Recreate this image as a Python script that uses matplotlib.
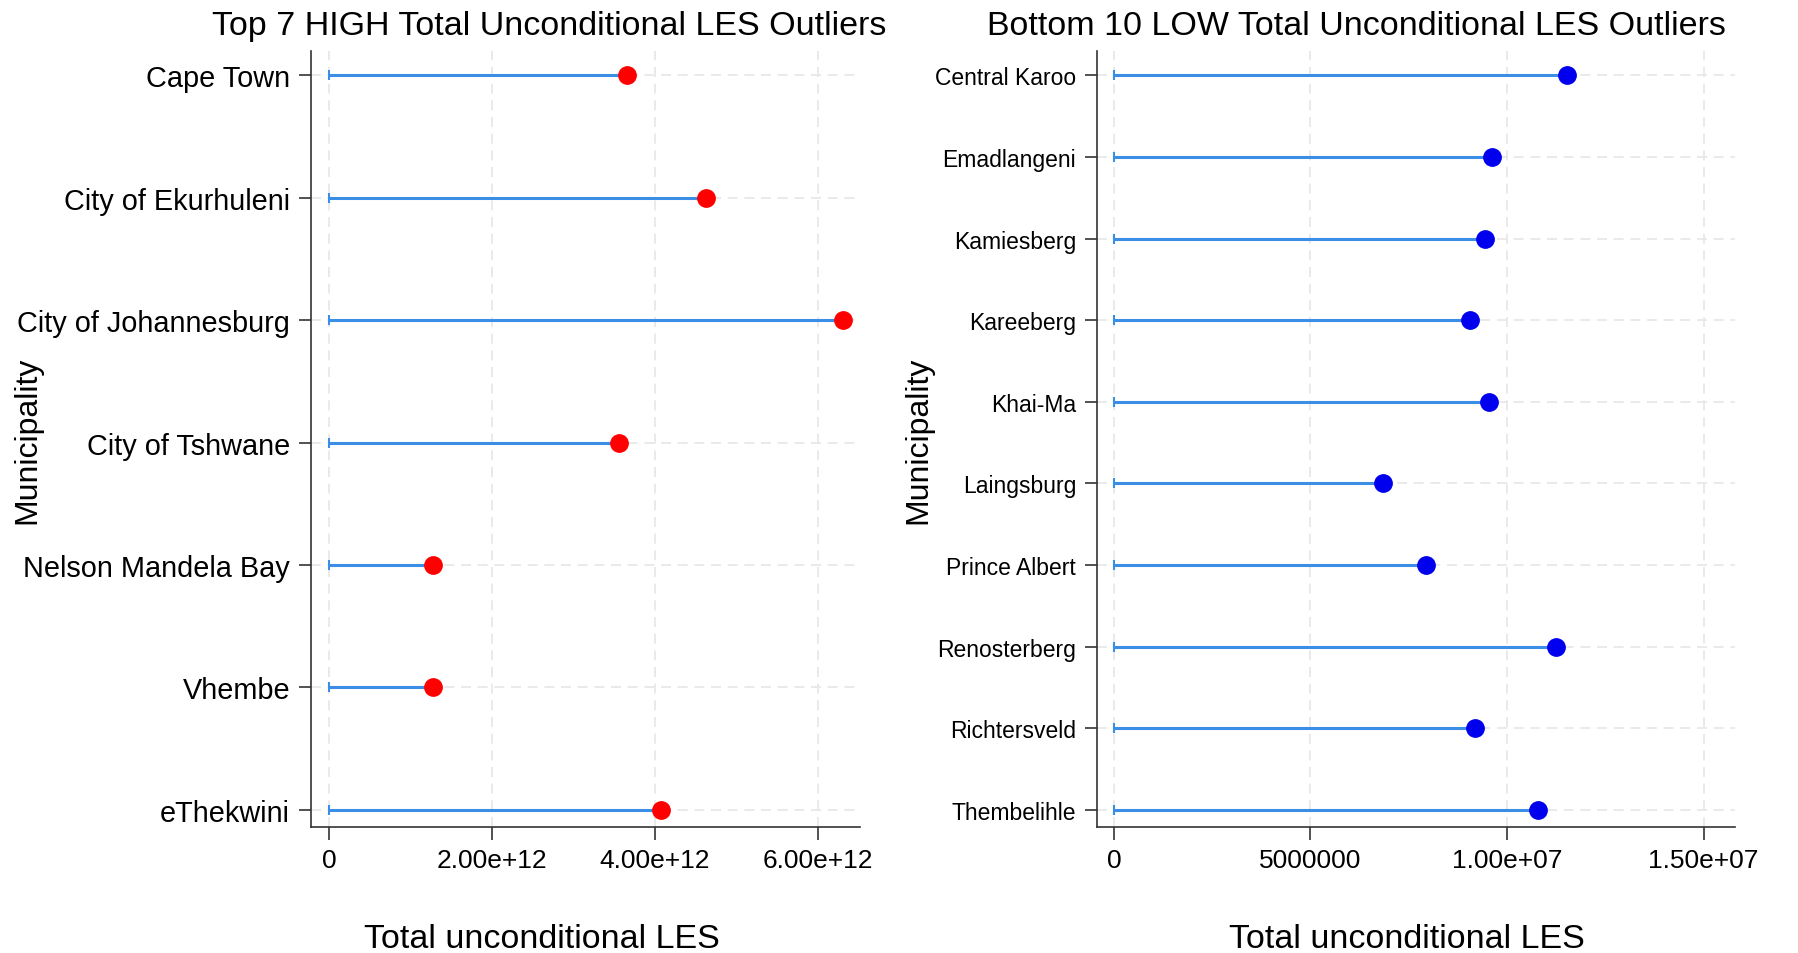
import numpy as np
import matplotlib.pyplot as plt

plt.rcParams['font.family'] = ['Liberation Sans', 'DejaVu Sans']

high_names = ["Cape Town", "City of Ekurhuleni", "City of Johannesburg",
              "City of Tshwane", "Nelson Mandela Bay", "Vhembe", "eThekwini"]
high_vals = [3.66e12, 4.63e12, 6.31e12, 3.56e12, 1.28e12, 1.27e12, 4.07e12]

low_names = ["Central Karoo", "Emadlangeni", "Kamiesberg", "Kareeberg", "Khai-Ma",
             "Laingsburg", "Prince Albert", "Renosterberg", "Richtersveld", "Thembelihle"]
low_vals = [1.153e7, 9.63e6, 9.43e6, 9.06e6, 9.55e6, 6.85e6, 7.93e6, 1.125e7, 9.18e6, 1.08e7]

high_ticks = [0, 2e12, 4e12, 6e12]
high_ticklabels = ["0", "2.00e+12", "4.00e+12", "6.00e+12"]
low_ticks = [0, 5e6, 1e7, 1.5e7]
low_ticklabels = ["0", "5000000", "1.00e+07", "1.50e+07"]

STEM = "#3b8ee6"
GRID = "#e6e6e6"


def lollipop(ax, names, vals, dot_color, ticks, ticklabels, xlim, ylim, title, yfs,
             title_x, xlab_x, ylab_x):
    y = np.arange(len(names))
    for yi in y:
        ax.axhline(yi, color=GRID, lw=1.2, ls=(0, (6, 4)), zorder=0)
    for t in ticks:
        ax.axvline(t, color=GRID, lw=1.2, ls=(0, (6, 4)), zorder=0)
    ax.hlines(y, 0, vals, color=STEM, lw=2.2, zorder=2)
    ax.plot(np.zeros(len(y)), y, ls="none", marker="|", ms=7, mew=1.5, color=STEM, zorder=2)
    ax.plot(vals, y, ls="none", marker="o", ms=12.5, color=dot_color, zorder=3)
    ax.set_yticks(y)
    ax.set_yticklabels(names, fontsize=yfs)
    ax.set_ylim(*ylim)
    ax.set_xticks(ticks)
    ax.set_xticklabels(ticklabels, fontsize=19)
    ax.set_xlim(*xlim)
    ax.set_title(title, fontsize=24.5, pad=12, x=title_x)
    ax.set_xlabel("Total unconditional LES", fontsize=24.5)
    ax.xaxis.set_label_coords(xlab_x, -0.124)
    ax.set_ylabel("Municipality", fontsize=23)
    ax.yaxis.set_label_coords(ylab_x, 0.5)
    for s in ["top", "right"]:
        ax.spines[s].set_visible(False)
    for s in ["left", "bottom"]:
        ax.spines[s].set_color("#333333")
        ax.spines[s].set_linewidth(1.2)
    ax.tick_params(axis="both", length=9, width=1.2, color="#333333", pad=6)


fig = plt.figure(figsize=(17.99, 9.54), dpi=100)
ax1 = fig.add_axes([311 / 1799, 1 - 828 / 954, (860 - 311) / 1799, (828 - 52) / 954])
ax2 = fig.add_axes([1097 / 1799, 1 - 828 / 954, (1735 - 1097) / 1799, (828 - 52) / 954])

lollipop(ax1, high_names, high_vals, "#ff0000", high_ticks, high_ticklabels,
         (-0.225e12, 6.52e12), (6.14, -0.2),
         "Top 7 HIGH Total Unconditional LES Outliers", 20.8, 0.434, 0.42, -0.49)
lollipop(ax2, low_names, low_vals, "#0000ee", low_ticks, low_ticklabels,
         (-0.43e6, 1.58e7), (9.21, -0.3),
         "Bottom 10 LOW Total Unconditional LES Outliers", 16.5, 0.406, 0.486, -0.257)

fig.savefig("out.png", dpi=100)
